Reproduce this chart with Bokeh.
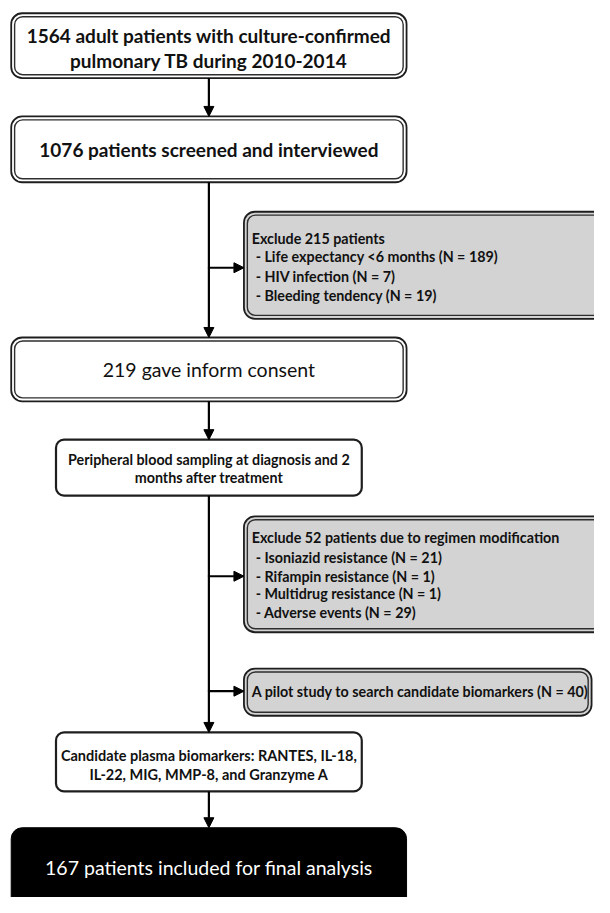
from bokeh.plotting import figure
from bokeh.models import Range1d, BoxAnnotation, Arrow, NormalHead, ColumnDataSource
from bokeh.core.properties import value
from bokeh.embed import file_html
from bokeh.resources import INLINE

# ---------------- content ----------------
main_steps = [
    ["1564 adult patients with culture-confirmed", "pulmonary TB during 2010-2014"],
    ["1076 patients screened and interviewed"],
    ["219 gave inform consent"],
    ["Peripheral blood sampling at diagnosis and 2", "months after treatment"],
    ["Candidate plasma biomarkers: RANTES, IL-18,", "IL-22, MIG, MMP-8, and Granzyme A"],
    ["167 patients included for final analysis"],
]
side_titles = [
    "Exclude 215 patients",
    "Exclude 52 patients due to regimen modification",
    "A pilot study to search candidate biomarkers (N = 40)",
]
side_items = [
    ["- Life expectancy <6 months (N = 189)", "- HIV infection (N = 7)", "- Bleeding tendency (N = 19)"],
    ["- Isoniazid resistance (N = 21)", "- Rifampin resistance (N = 1)",
     "- Multidrug resistance (N = 1)", "- Adverse events (N = 29)"],
    [],
]

# ---------------- layout (reference pixel frame, y downward) ----------------
W, H = 610, 913
main_boxes = [(11, 417, 13, 79), (11, 417, 118, 185), (11, 417, 343, 408),
              (57, 371, 447, 504), (57, 371, 745, 805), (11, 417, 842, 940)]
main_text_y = [[36, 61], [152], [376], [467, 486], [768, 788], [882]]
main_style = ["double", "double", "double", "single", "single", "black"]
main_font = ["19px", "19px", "19.5px", "14.3px", "14.5px", "19.5px"]
main_weight = ["bold", "bold", "normal", "bold", "bold", "normal"]
spine_x = 214

side_boxes = [(250, 640, 215, 324), (250, 640, 525, 643), (250, 607, 680, 728)]
side_branch_y = [272, 586, 703]
side_title_y = [242, 547, 703]
side_item_y = [[261, 281, 300], [567, 586, 604, 623], []]
side_title_x = 258
side_item_x = 262
side_font = "14.3px"

FONT = "Lato"

p = figure(width=594, height=897, output_backend="svg", toolbar_location=None,
           x_range=Range1d(0, W), y_range=Range1d(0, H), min_border=0)
p.axis.visible = False
p.grid.visible = False
p.outline_line_color = None
p.background_fill_color = "white"
p.border_fill_color = "white"


def fy(y):
    return H - y


def box(l, r, t, b, style, fill="white", radius=10):
    if style == "black":
        p.add_layout(BoxAnnotation(left=l, right=r, top=fy(t), bottom=fy(b),
                                   fill_color="black", fill_alpha=1,
                                   line_color="black", line_alpha=1, line_width=1,
                                   border_radius=radius, level="underlay"))
        return
    p.add_layout(BoxAnnotation(left=l, right=r, top=fy(t), bottom=fy(b),
                               fill_color=fill, fill_alpha=1,
                               line_color="#1e1e1e", line_alpha=1,
                               line_width=1.8 if style == "double" else 2.2,
                               border_radius=radius, level="underlay"))
    if style == "double":
        p.add_layout(BoxAnnotation(left=l + 3.5, right=r - 3.5, top=fy(t + 3.5), bottom=fy(b - 3.5),
                                   fill_alpha=0, line_color="#2e2e2e", line_alpha=1, line_width=1.4,
                                   border_radius=radius - 3, level="underlay"))


# main boxes
for (l, r, t, b), st in zip(main_boxes, main_style):
    box(l, r, t, b, st, radius=11 if st != "single" else 8)

# side boxes
for (l, r, t, b) in side_boxes:
    box(l, r, t, b, "double", fill="#d3d3d3", radius=11)

# arrows between main boxes
head = dict(size=10, fill_color="black", line_color="black", line_width=1)
for i in range(len(main_boxes) - 1):
    y0 = main_boxes[i][3]
    y1 = main_boxes[i + 1][2]
    p.add_layout(Arrow(end=NormalHead(**head), x_start=spine_x, y_start=fy(y0),
                       x_end=spine_x, y_end=fy(y1), line_width=2.2, line_color="black"))

# branch arrows
for (l, r, t, b), by in zip(side_boxes, side_branch_y):
    p.add_layout(Arrow(end=NormalHead(**head), x_start=spine_x - 1, y_start=fy(by),
                       x_end=l, y_end=fy(by), line_width=2.2, line_color="black"))

# main texts
for lines, ys, fs, fw, st in zip(main_steps, main_text_y, main_font, main_weight, main_style):
    src = ColumnDataSource(dict(x=[spine_x] * len(lines), y=[fy(v) for v in ys], t=lines))
    p.text(x="x", y="y", text="t", source=src, text_align="center", text_baseline="middle",
           text_font=value(FONT), text_font_size=fs, text_font_style=fw,
           text_color="white" if st == "black" else "#111111")

# side texts
for title, ty, items, iys in zip(side_titles, side_title_y, side_items, side_item_y):
    p.text(x=[side_title_x], y=[fy(ty)], text=[title], text_align="left", text_baseline="middle",
           text_font=value(FONT), text_font_size=side_font, text_font_style="bold",
           text_color="#111111")
    if items:
        src = ColumnDataSource(dict(x=[side_item_x] * len(items), y=[fy(v) for v in iys], t=items))
        p.text(x="x", y="y", text="t", source=src, text_align="left", text_baseline="middle",
               text_font=value(FONT), text_font_size=side_font, text_font_style="bold",
               text_color="#111111")

open("out.html", "w").write(file_html(p, INLINE))
